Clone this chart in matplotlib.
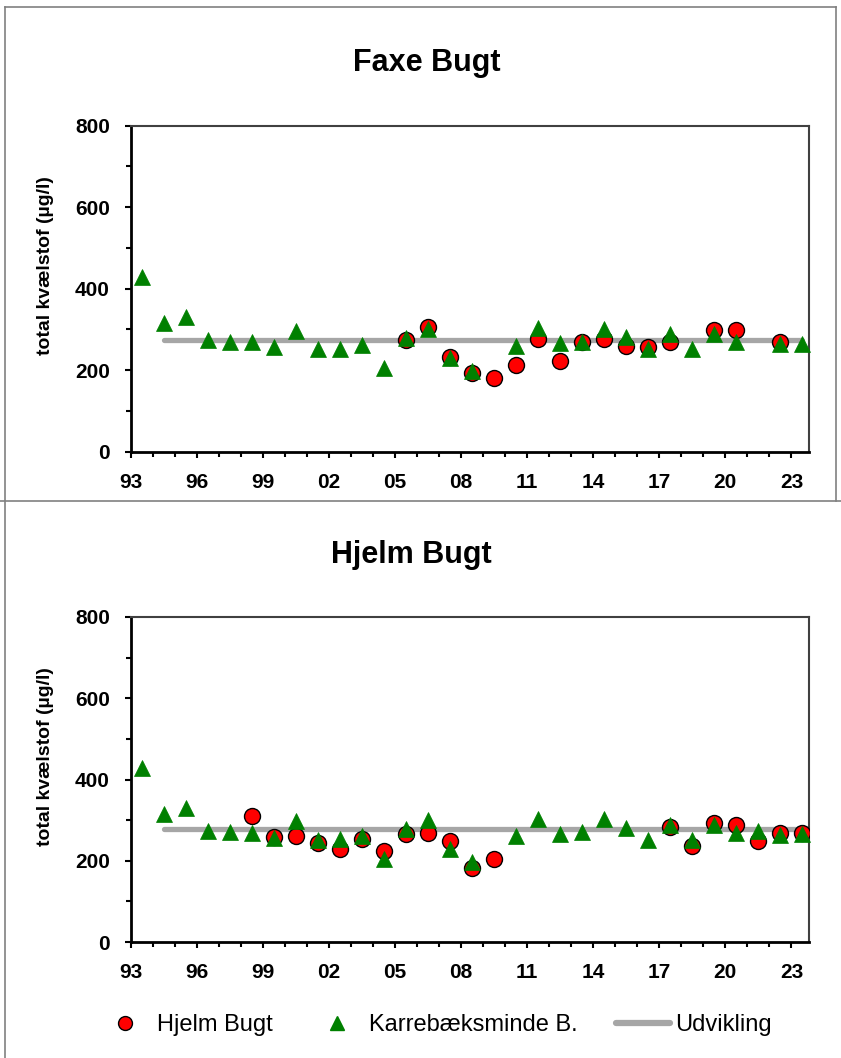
import numpy as np
import matplotlib.pyplot as plt
from matplotlib.lines import Line2D

plt.rcParams['font.family'] = ['Liberation Sans', 'DejaVu Sans']

# data (points sit mid-year)
years = np.arange(1993, 2024) + 0.5
nan = np.nan

faxe_circles = [nan] * 12 + [274, 307, 233, 192, 180, 213, 277, 223, 268, 277,
                             260, 256, 270, nan, 299, 299, nan, 268, nan]
faxe_triangles = [428, 315, 330, 273, 270, 268, 257, 297, 252, 253, 261, 205,
                  278, 300, 229, 197, nan, 260, 303, 267, 270, 302, 281, 251,
                  289, 252, 288, 268, nan, 264, 265]
faxe_trend = [275, 275]

hjelm_circles = [nan] * 5 + [309, 259, 262, 243, 230, 253, 224, 266, 269, 248,
                             183, 204, nan, nan, nan, nan, nan, nan, nan,
                             282, 236, 294, 288, 248, 268, 269]
hjelm_triangles = [428, 315, 330, 273, 270, 268, 257, 297, 252, 253, 261, 205,
                   278, 300, 229, 197, nan, 260, 303, 267, 270, 302, 281, 251,
                   289, 252, 288, 268, 273, 264, 265]
hjelm_trend = [278, 278]
trend_years = [1994.5, 2023.5]

xtick_years = np.arange(1993, 2024, 3)
xtick_labels = ['93', '96', '99', '02', '05', '08', '11', '14', '17', '20', '23']

W, H = 841, 1058
fig = plt.figure(figsize=(W / 100, H / 100), dpi=100)


def px(x0, y0, x1, y1):
    return [x0 / W, 1 - y1 / H, (x1 - x0) / W, (y1 - y0) / H]


def panel(rect, circles, triangles, trend, title, title_xy):
    ax = fig.add_axes(rect)
    ax.plot(trend_years, trend, color='#a6a6a6', lw=3.8, solid_capstyle='round',
            zorder=2, clip_on=False)
    ax.plot(years, circles, 'o', ms=11.5, mfc='#ff0000', mec='black', mew=1.0,
            zorder=3)
    ax.plot(years, triangles, '^', ms=11.5, mfc='#008000', mec='#008000',
            mew=0.5, zorder=4, clip_on=False)
    ax.set_xlim(1993, 2023.8)
    ax.set_ylim(0, 800)
    ax.set_yticks(np.arange(0, 801, 200))
    ax.set_yticks(np.arange(100, 800, 200), minor=True)
    ax.set_xticks(xtick_years)
    ax.set_xticklabels(xtick_labels)
    ax.set_xticks(np.arange(1993, 2024), minor=True)
    ax.tick_params(axis='both', which='major', labelsize=15, width=1.5,
                   length=4.5, pad=10.5, direction='out')
    ax.tick_params(axis='both', which='minor', width=1.5, length=3.5,
                   direction='out')
    for lab in ax.get_xticklabels() + ax.get_yticklabels():
        lab.set_fontweight('bold')
    for s in ['left', 'bottom']:
        ax.spines[s].set_linewidth(2.0)
        ax.spines[s].set_color('black')
    for s in ['top', 'right']:
        ax.spines[s].set_linewidth(1.5)
        ax.spines[s].set_color('#404040')
    ax.set_ylabel('total kvælstof (µg/l)', fontsize=14, fontweight='bold')
    ax.yaxis.set_label_coords((54 - 130.7) / 678.3, 0.57)
    fig.text(title_xy[0] / W, 1 - title_xy[1] / H, title, fontsize=22,
             fontweight='bold', ha='center', va='center')
    return ax


panel(px(130.7, 125.7, 809, 451.7), faxe_circles, faxe_triangles, faxe_trend,
      'Faxe Bugt', (427, 63))
ax2 = panel(px(130.7, 617, 809, 942), hjelm_circles, hjelm_triangles, hjelm_trend,
            'Hjelm Bugt', (411, 555))

# outer frame lines
grey = '#808080'
for xs, ys in [([5, 836], [7, 7]), ([5, 5], [7, 1058]), ([836, 836], [7, 501]),
               ([0, 841], [501, 501])]:
    fig.add_artist(Line2D([x / W for x in xs], [1 - y / H for y in ys],
                          color=grey, lw=1.2))

handles = [
    Line2D([], [], ls='none', marker='o', ms=10, mfc='#ff0000', mec='black', mew=1.0),
    Line2D([], [], ls='none', marker='^', ms=10, mfc='#008000', mec='#008000'),
    Line2D([], [], color='#a6a6a6', lw=4.5, solid_capstyle='round'),
]
fig.legend(handles, ['Hjelm Bugt', 'Karrebæksminde B.', 'Udvikling'],
           loc='center', bbox_to_anchor=(434.5 / W, 1 - 1025 / H), ncol=3,
           frameon=False, fontsize=17, handlelength=2.29, handletextpad=0.21,
           columnspacing=1.6, borderpad=0, borderaxespad=0)

fig.savefig('out.png', dpi=100)
